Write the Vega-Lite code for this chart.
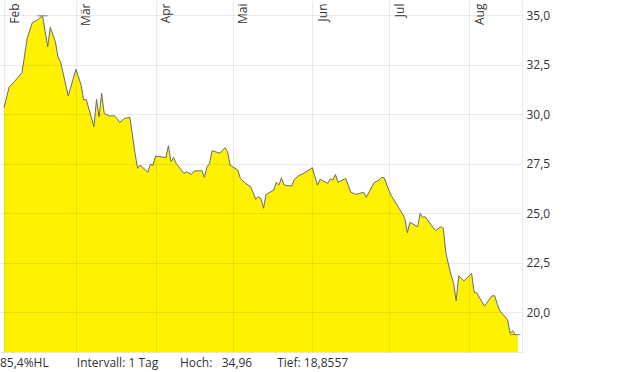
{
  "$schema": "https://vega.github.io/schema/vega-lite/v6.json",
  "width": 522,
  "height": 352,
  "autosize": {"type": "none"},
  "padding": {"left": 0, "top": 0, "right": 98, "bottom": 20},
  "background": "white",
  "config": {"view": {"stroke": null}, "font": "Open Sans"},
  "title": {
    "text": "85,4%HL\u00a0\u00a0\u00a0\u00a0\u00a0\u00a0\u00a0\u00a0\u00a0Intervall: 1\u00a0Tag\u00a0\u00a0\u00a0\u00a0\u00a0\u00a0\u00a0Hoch:\u00a0\u00a0\u00a034,96\u00a0\u00a0\u00a0\u00a0\u00a0\u00a0\u00a0\u00a0Tief:\u00a018,8557",
    "orient": "bottom",
    "anchor": "start",
    "offset": 6,
    "fontSize": 12,
    "fontWeight": "normal",
    "font": "Open Sans",
    "color": "#333333"
  },
  "datasets": {
    "prices": [
      {"date": "2023-02-01", "price": 30.32},
      {"date": "2023-02-03", "price": 31.35},
      {"date": "2023-02-05", "price": 31.63},
      {"date": "2023-02-08", "price": 32.09},
      {"date": "2023-02-10", "price": 33.82},
      {"date": "2023-02-12", "price": 34.61},
      {"date": "2023-02-14", "price": 34.75},
      {"date": "2023-02-16", "price": 34.96},
      {"date": "2023-02-18", "price": 33.40},
      {"date": "2023-02-19", "price": 34.38},
      {"date": "2023-02-21", "price": 33.65},
      {"date": "2023-02-22", "price": 32.90},
      {"date": "2023-02-23", "price": 32.64},
      {"date": "2023-02-26", "price": 30.92},
      {"date": "2023-03-01", "price": 32.26},
      {"date": "2023-03-03", "price": 31.47},
      {"date": "2023-03-04", "price": 30.71},
      {"date": "2023-03-05", "price": 30.74},
      {"date": "2023-03-08", "price": 29.36},
      {"date": "2023-03-09", "price": 30.74},
      {"date": "2023-03-10", "price": 29.86},
      {"date": "2023-03-11", "price": 31.04},
      {"date": "2023-03-12", "price": 30.03},
      {"date": "2023-03-14", "price": 29.90},
      {"date": "2023-03-16", "price": 29.91},
      {"date": "2023-03-17", "price": 29.78},
      {"date": "2023-03-18", "price": 29.58},
      {"date": "2023-03-20", "price": 29.78},
      {"date": "2023-03-22", "price": 29.83},
      {"date": "2023-03-24", "price": 28.02},
      {"date": "2023-03-25", "price": 27.26},
      {"date": "2023-03-26", "price": 27.42},
      {"date": "2023-03-29", "price": 27.06},
      {"date": "2023-03-30", "price": 27.46},
      {"date": "2023-03-31", "price": 27.42},
      {"date": "2023-04-01", "price": 27.88},
      {"date": "2023-04-05", "price": 27.80},
      {"date": "2023-04-06", "price": 28.40},
      {"date": "2023-04-07", "price": 27.59},
      {"date": "2023-04-08", "price": 27.81},
      {"date": "2023-04-09", "price": 27.51},
      {"date": "2023-04-11", "price": 27.17},
      {"date": "2023-04-12", "price": 27.00},
      {"date": "2023-04-13", "price": 27.08},
      {"date": "2023-04-15", "price": 26.95},
      {"date": "2023-04-16", "price": 27.12},
      {"date": "2023-04-19", "price": 27.14},
      {"date": "2023-04-20", "price": 26.80},
      {"date": "2023-04-21", "price": 27.34},
      {"date": "2023-04-22", "price": 27.51},
      {"date": "2023-04-23", "price": 28.15},
      {"date": "2023-04-26", "price": 28.02},
      {"date": "2023-04-28", "price": 28.30},
      {"date": "2023-04-29", "price": 28.10},
      {"date": "2023-04-30", "price": 27.42},
      {"date": "2023-05-03", "price": 27.17},
      {"date": "2023-05-04", "price": 26.75},
      {"date": "2023-05-06", "price": 26.50},
      {"date": "2023-05-08", "price": 26.33},
      {"date": "2023-05-10", "price": 25.69},
      {"date": "2023-05-11", "price": 25.82},
      {"date": "2023-05-12", "price": 25.74},
      {"date": "2023-05-13", "price": 25.24},
      {"date": "2023-05-14", "price": 25.94},
      {"date": "2023-05-17", "price": 26.16},
      {"date": "2023-05-18", "price": 26.55},
      {"date": "2023-05-19", "price": 26.41},
      {"date": "2023-05-20", "price": 26.78},
      {"date": "2023-05-21", "price": 26.41},
      {"date": "2023-05-24", "price": 26.36},
      {"date": "2023-05-25", "price": 26.70},
      {"date": "2023-05-27", "price": 26.92},
      {"date": "2023-05-28", "price": 26.95},
      {"date": "2023-06-01", "price": 27.29},
      {"date": "2023-06-03", "price": 26.41},
      {"date": "2023-06-04", "price": 26.70},
      {"date": "2023-06-07", "price": 26.50},
      {"date": "2023-06-08", "price": 26.72},
      {"date": "2023-06-09", "price": 26.67},
      {"date": "2023-06-10", "price": 26.95},
      {"date": "2023-06-11", "price": 26.55},
      {"date": "2023-06-14", "price": 26.75},
      {"date": "2023-06-16", "price": 26.05},
      {"date": "2023-06-18", "price": 25.94},
      {"date": "2023-06-21", "price": 26.05},
      {"date": "2023-06-22", "price": 25.79},
      {"date": "2023-06-25", "price": 26.53},
      {"date": "2023-06-27", "price": 26.67},
      {"date": "2023-06-28", "price": 26.80},
      {"date": "2023-06-29", "price": 26.78},
      {"date": "2023-07-01", "price": 26.08},
      {"date": "2023-07-02", "price": 25.82},
      {"date": "2023-07-06", "price": 24.98},
      {"date": "2023-07-07", "price": 24.73},
      {"date": "2023-07-08", "price": 24.00},
      {"date": "2023-07-09", "price": 24.53},
      {"date": "2023-07-12", "price": 24.31},
      {"date": "2023-07-13", "price": 24.98},
      {"date": "2023-07-14", "price": 24.78},
      {"date": "2023-07-15", "price": 24.81},
      {"date": "2023-07-17", "price": 24.44},
      {"date": "2023-07-19", "price": 24.11},
      {"date": "2023-07-21", "price": 24.31},
      {"date": "2023-07-22", "price": 24.23},
      {"date": "2023-07-23", "price": 22.96},
      {"date": "2023-07-25", "price": 21.87},
      {"date": "2023-07-26", "price": 21.45},
      {"date": "2023-07-27", "price": 20.57},
      {"date": "2023-07-28", "price": 21.83},
      {"date": "2023-07-30", "price": 21.57},
      {"date": "2023-08-02", "price": 21.95},
      {"date": "2023-08-03", "price": 20.99},
      {"date": "2023-08-04", "price": 20.97},
      {"date": "2023-08-06", "price": 20.52},
      {"date": "2023-08-07", "price": 20.30},
      {"date": "2023-08-10", "price": 20.82},
      {"date": "2023-08-11", "price": 20.82},
      {"date": "2023-08-12", "price": 20.39},
      {"date": "2023-08-13", "price": 20.07},
      {"date": "2023-08-16", "price": 19.60},
      {"date": "2023-08-17", "price": 18.92},
      {"date": "2023-08-18", "price": 19.06},
      {"date": "2023-08-19", "price": 18.86},
      {"date": "2023-08-20", "price": 18.86}
    ],
    "markers": [
      {"date": "2023-02-14", "date2": "2023-02-18", "price": 34.96},
      {"date": "2023-08-17", "date2": "2023-08-21", "price": 18.8557}
    ]
  },
  "resolve": {"axis": {"x": "independent"}},
  "layer": [
    {
      "data": {"name": "prices"},
      "mark": {"type": "area", "color": "#fff200", "clip": true},
      "encoding": {
        "x": {
          "field": "date", "type": "temporal",
          "scale": {"type": "utc", "domain": [
            {"year": 2023, "month": 1, "date": 30, "hours": 10, "minutes": 30, "utc": true},
            {"year": 2023, "month": 8, "date": 21, "hours": 15, "utc": true}
          ]},
          "axis": {
            "orient": "top", "title": null, "domain": false, "ticks": false, "tickSize": 0,
            "grid": true, "gridColor": "#000000", "gridOpacity": 0.08, "zindex": 1,
            "values": [
              {"year": 2023, "month": 2, "date": 1, "utc": true},
              {"year": 2023, "month": 3, "date": 1, "utc": true},
              {"year": 2023, "month": 4, "date": 1, "utc": true},
              {"year": 2023, "month": 5, "date": 1, "utc": true},
              {"year": 2023, "month": 6, "date": 1, "utc": true},
              {"year": 2023, "month": 7, "date": 1, "utc": true},
              {"year": 2023, "month": 8, "date": 1, "utc": true}
            ],
            "labelExpr": "['Jan','Feb','Mär','Apr','Mai','Jun','Jul','Aug','Sep','Okt','Nov','Dez'][utcmonth(datum.value)]",
            "labelAngle": -90, "labelAlign": "right", "labelBaseline": "top",
            "labelPadding": -3, "labelOffset": 5, "labelFlush": false, "labelOverlap": false, "labelBound": false,
            "labelFont": "Open Sans", "labelFontSize": 12, "labelColor": "#333333"
          }
        },
        "y": {
          "field": "price", "type": "quantitative",
          "scale": {"domain": [17.98, 35.76], "nice": false, "zero": false},
          "axis": {
            "orient": "right", "title": null, "ticks": false, "tickSize": 0,
            "domain": true, "domainColor": "#000000", "domainOpacity": 0.08,
            "grid": true, "gridColor": "#000000", "gridOpacity": 0.08, "zindex": 1,
            "values": [20, 22.5, 25, 27.5, 30, 32.5, 35],
            "labelExpr": "replace(format(datum.value, '.1f'), '.', ',')",
            "labelPadding": 4, "labelFont": "Open Sans", "labelFontSize": 12, "labelColor": "#333333"
          }
        }
      }
    },
    {
      "data": {"name": "prices"},
      "mark": {"type": "line", "color": "#6a6a6a", "strokeWidth": 1, "clip": true},
      "encoding": {
        "x": {"field": "date", "type": "temporal", "axis": null},
        "y": {"field": "price", "type": "quantitative", "axis": {"orient": "right", "title": null}}
      }
    },
    {
      "data": {"name": "markers"},
      "mark": {"type": "rule", "color": "#8a8a8a", "strokeWidth": 1},
      "encoding": {
        "x": {
          "field": "date", "type": "temporal",
          "axis": {"orient": "bottom", "title": null, "labels": false, "ticks": false, "grid": false,
                   "domain": true, "domainColor": "#000000", "domainOpacity": 0.1}
        },
        "x2": {"field": "date2"},
        "y": {"field": "price", "type": "quantitative", "axis": {"orient": "right", "title": null}}
      }
    }
  ]
}
